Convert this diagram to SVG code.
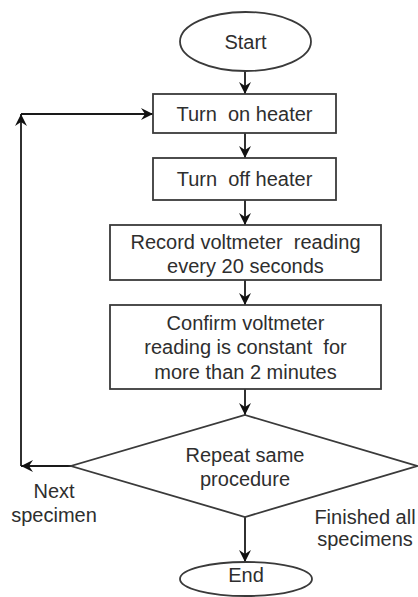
<svg xmlns="http://www.w3.org/2000/svg" width="418" height="597" viewBox="0 0 418 597">
<defs>
<style>
.shape{fill:#fff;stroke:#3a3a3a;stroke-width:1.8}
.txt{font-family:"Liberation Sans",Arial,sans-serif;font-size:20px;fill:#2e2e2e;text-anchor:middle}
.conn{fill:none;stroke:#1a1a1a;stroke-width:1.8}
</style>
<marker id="ah" viewBox="0 0 12 12" refX="12" refY="6" markerWidth="12" markerHeight="12" markerUnits="userSpaceOnUse" orient="auto">
<path d="M0,0 L12,6 L0,12 L4,6 z" fill="#111"/>
</marker>
</defs>
<rect width="418" height="597" fill="#fff"/>
<g id="connectors">
<line class="conn" x1="245" y1="71" x2="245" y2="94" marker-end="url(#ah)"/>
<line class="conn" x1="245" y1="133" x2="245" y2="158" marker-end="url(#ah)"/>
<line class="conn" x1="245" y1="200" x2="245" y2="225" marker-end="url(#ah)"/>
<line class="conn" x1="245" y1="280" x2="245" y2="305" marker-end="url(#ah)"/>
<line class="conn" x1="245" y1="389" x2="245" y2="415" marker-end="url(#ah)"/>
<line class="conn" x1="245" y1="517" x2="245" y2="562" marker-end="url(#ah)"/>
<line class="conn" x1="71" y1="466" x2="21" y2="466" marker-end="url(#ah)"/>
<line class="conn" x1="21" y1="466" x2="21" y2="114" marker-end="url(#ah)"/>
<line class="conn" x1="21" y1="114" x2="153" y2="114" marker-end="url(#ah)"/>
</g>
<g id="start">
<ellipse class="shape" cx="245.5" cy="41.5" rx="65.5" ry="29.5"/>
<text class="txt" x="245.5" y="49">Start</text>
</g>
<g id="turn-on">
<rect class="shape" x="153" y="94" width="183" height="39"/>
<text class="txt" x="244.5" y="121" xml:space="preserve">Turn  on heater</text>
</g>
<g id="turn-off">
<rect class="shape" x="153" y="158" width="183" height="42"/>
<text class="txt" x="244.5" y="186" xml:space="preserve">Turn  off heater</text>
</g>
<g id="record">
<rect class="shape" x="110" y="225" width="271" height="55"/>
<text class="txt" x="245.5" y="249" xml:space="preserve">Record voltmeter  reading</text>
<text class="txt" x="245.5" y="273">every 20 seconds</text>
</g>
<g id="confirm">
<rect class="shape" x="110" y="305" width="271" height="84"/>
<text class="txt" x="245.5" y="330">Confirm voltmeter</text>
<text class="txt" x="245.5" y="354" xml:space="preserve">reading is constant  for</text>
<text class="txt" x="245.5" y="379">more than 2 minutes</text>
</g>
<g id="decision">
<polygon class="shape" points="245,415 417,466 245,517 71,466"/>
<text class="txt" x="245" y="462">Repeat same</text>
<text class="txt" x="245" y="486">procedure</text>
</g>
<g id="end">
<ellipse class="shape" cx="246" cy="579" rx="66" ry="17"/>
<text class="txt" x="246" y="582">End</text>
</g>
<g id="labels">
<text class="txt" x="54" y="498">Next</text>
<text class="txt" x="54" y="522">specimen</text>
<text class="txt" x="365" y="524">Finished all</text>
<text class="txt" x="365" y="546">specimens</text>
</g>
</svg>
